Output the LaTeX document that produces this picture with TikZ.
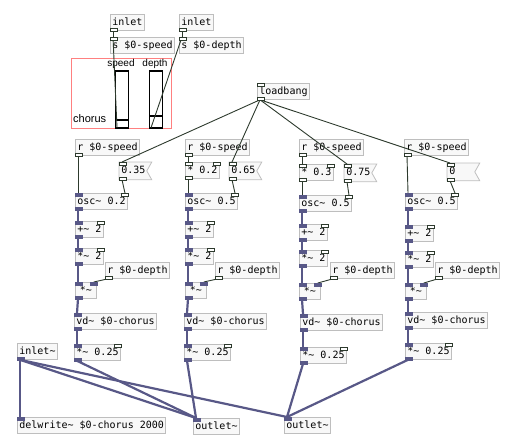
\documentclass[tikz,border=0pt]{standalone}
\usepackage{fontspec}
\setmainfont{Liberation Sans}
\newfontfamily\pdmono{DejaVu Sans Mono}
\usetikzlibrary{backgrounds}
\definecolor{pdbord}{RGB}{190,190,190}
\definecolor{pdfill}{RGB}{248,248,248}
\definecolor{pdctl}{RGB}{45,58,45}
\definecolor{pdsig}{RGB}{88,88,135}
\definecolor{pdred}{RGB}{255,128,128}

\begin{document}
\begin{tikzpicture}[x=1pt,y=-1pt,
 obj/.style={draw=pdbord,fill=pdfill,line width=0.8pt,anchor=north west,font=\pdmono\fontsize{10}{12}\selectfont,inner sep=2pt,minimum height=16pt,text height=7.5pt,text depth=2pt},
 num/.style={obj,draw=none,fill=none,text width=28pt,align=left,minimum height=17pt},
 numshape/.style={draw=pdbord,fill=pdfill,line width=0.8pt},
 lbl/.style={font=\fontsize{10}{12}\selectfont,inner sep=0pt},
 gop/.style={draw=pdred,line width=1pt,anchor=north west,minimum width=100pt,minimum height=70pt,inner sep=0pt},
 slider/.style={draw=black,fill=white,line width=0.8pt,anchor=north west,minimum width=13pt,minimum height=56pt,inner sep=0pt},
 knob/.style={line width=2.6pt,black},
 ctl/.style={draw=pdctl,line width=0.9pt},
 sig/.style={draw=pdsig,line width=2.2pt},
 cport/.style={draw=pdctl,fill=white,line width=0.6pt},
 sport/.style={draw=pdsig,fill=pdsig,line width=0.6pt}]
\useasboundingbox (0,0) rectangle (521,447);

% top: inlets and the GOP area
\node[obj] (in1) at (110,14) {inlet};
\node[obj] (sspd) at (110,37) {s \$0-speed};
\node[obj] (in2) at (179,14) {inlet};
\node[obj] (sdep) at (179,37) {s \$0-depth};
\node[gop] (gop) at (71,58) {};
\node[slider] (spd) at (115,71) {};
\node[slider] (dep) at (149,71) {};
\node[lbl] (lspd) at (121,64) {speed};
\node[lbl] (ldep) at (155,64) {depth};
\node[lbl,anchor=west,font=\fontsize{11}{13}\selectfont] (lcho) at (73,119) {chorus};
\node[obj] (lb) at (257,83) {loadbang};

% column 1
\node[obj] (rs1) at (75,139) {r \$0-speed};
\node[num] (n1) at (119,162) {0.35};
\node[obj] (osc1) at (75,193) {osc\textasciitilde{} 0.2};
\node[obj] (add1) at (75,221) {+\textasciitilde{} 2};
\node[obj] (mul1) at (75,248) {*\textasciitilde{} 2};
\node[obj] (rd1) at (105,262) {r \$0-depth};
\node[obj,minimum width=21pt] (md1) at (75,282) {*\textasciitilde{}};
\node[obj] (vd1) at (74,313) {vd\textasciitilde{} \$0-chorus};
\node[obj] (g1) at (74,344) {*\textasciitilde{} 0.25};

% column 2
\node[obj] (rs2) at (185,139) {r \$0-speed};
\node[obj] (m2) at (185,162) {* 0.2};
\node[num] (n2) at (229,162) {0.65};
\node[obj] (osc2) at (185,193) {osc\textasciitilde{} 0.5};
\node[obj] (add2) at (185,221) {+\textasciitilde{} 2};
\node[obj] (mul2) at (185,248) {*\textasciitilde{} 2};
\node[obj] (rd2) at (215,262) {r \$0-depth};
\node[obj,minimum width=21pt] (md2) at (185,282) {*\textasciitilde{}};
\node[obj] (vd2) at (184,313) {vd\textasciitilde{} \$0-chorus};
\node[obj] (g2) at (184,344) {*\textasciitilde{} 0.25};

% column 3
\node[obj] (rs3) at (299,139) {r \$0-speed};
\node[obj] (m3) at (299,164) {* 0.3};
\node[num] (n3) at (344,164) {0.75};
\node[obj] (osc3) at (299,195) {osc\textasciitilde{} 0.5};
\node[obj] (add3) at (299,224) {+\textasciitilde{} 2};
\node[obj] (mul3) at (299,250) {*\textasciitilde{} 2};
\node[obj] (rd3) at (330,262) {r \$0-depth};
\node[obj,minimum width=21pt] (md3) at (299,283) {*\textasciitilde{}};
\node[obj] (vd3) at (300,314) {vd\textasciitilde{} \$0-chorus};
\node[obj] (g3) at (300,347) {*\textasciitilde{} 0.25};

% column 4
\node[obj] (rs4) at (404,139) {r \$0-speed};
\node[num] (n4) at (447,163) {0};
\node[obj] (osc4) at (405,193) {osc\textasciitilde{} 0.5};
\node[obj] (add4) at (405,225) {+\textasciitilde{} 2};
\node[obj] (mul4) at (405,251) {*\textasciitilde{} 2};
\node[obj] (rd4) at (435,262) {r \$0-depth};
\node[obj,minimum width=21pt] (md4) at (405,283) {*\textasciitilde{}};
\node[obj] (vd4) at (405,312) {vd\textasciitilde{} \$0-chorus};
\node[obj] (g4) at (405,343) {*\textasciitilde{} 0.25};

% bottom
\node[obj] (inl) at (17,343) {inlet\textasciitilde{}};
\node[obj] (dw) at (17,417) {delwrite\textasciitilde{} \$0-chorus 2000};
\node[obj] (out1) at (193,418) {outlet\textasciitilde{}};
\node[obj] (out2) at (284,417) {outlet\textasciitilde{}};

\begin{scope}[on background layer]
\foreach \n in {n1,n2,n3,n4} \draw[numshape] (\n.north west) -- (\n.north east) -- ([xshift=-5pt]\n.east) -- (\n.south east) -- (\n.south west) -- cycle;
\end{scope}

% sliders
\draw[knob] ([yshift=8pt]spd.south west) -- ([yshift=8pt]spd.south east);
\draw[knob] ([yshift=12pt]dep.south west) -- ([yshift=12pt]dep.south east);
\foreach \n in {spd,dep} {\draw[line width=1.6pt] (\n.north west) -- (\n.north east); \draw[line width=1.6pt] (\n.south west) -- (\n.south east);}

% control connections
\draw[ctl] ([xshift=3pt]in1.south west) -- ([xshift=3pt]sspd.north west);
\draw[ctl] ([xshift=3pt]in2.south west) -- ([xshift=3pt]sdep.north west);
\draw[ctl] ([xshift=2pt]spd.south west) -- ([xshift=3pt]sspd.north west);
\draw[ctl] ([xshift=2pt]dep.south west) -- ([xshift=3pt]sdep.north west);
\foreach \n in {n1,n2,n3,n4} \draw[ctl] ([xshift=3pt]lb.south west) -- ([xshift=3pt]\n.north west);
\foreach \a/\b in {rs1/osc1,rs2/m2,m2/osc2,rs3/m3,m3/osc3,rs4/osc4} \draw[ctl] ([xshift=3pt]\a.south west) -- ([xshift=3pt]\b.north west);
\foreach \a/\b in {n1/osc1,n2/osc2,n3/osc3,n4/osc4} \draw[ctl] ([xshift=3pt]\a.south west) -- ([xshift=-3pt]\b.north east);
\foreach \i in {1,2,3,4} \draw[ctl] ([xshift=3pt]rd\i.south west) -- ([xshift=-3pt]md\i.north east);

% signal connections
\foreach \i in {1,2,3,4} {
  \foreach \a/\b in {osc/add,add/mul,mul/md,md/vd,vd/g}
    \draw[sig] ([xshift=3pt]\a\i.south west) -- ([xshift=3pt]\b\i.north west);
}
\foreach \a/\b in {inl/dw,inl/out1,g1/out1,g2/out1,inl/out2,g3/out2,g4/out2} \draw[sig] ([xshift=3pt]\a.south west) -- ([xshift=3pt]\b.north west);

% ports
\foreach \n in {sspd,sdep,lb,n1,n2,n3,n4,m2,m3} \draw[cport] (\n.north west) rectangle ++(7,3);
\foreach \n in {osc1,osc2,osc3,osc4,add1,add2,add3,add4,mul1,mul2,mul3,mul4,g1,g2,g3,g4,m2,m3} \draw[cport] (\n.north east) rectangle ++(-7,3);
\foreach \n in {osc1,osc2,osc3,osc4,add1,add2,add3,add4,mul1,mul2,mul3,mul4,md1,md2,md3,md4,vd1,vd2,vd3,vd4,g1,g2,g3,g4,dw,out1,out2} \draw[sport] (\n.north west) rectangle ++(7,3);
\foreach \n in {md1,md2,md3,md4} \draw[sport] (\n.north east) rectangle ++(-7,3);
\foreach \n in {in1,in2,lb,rs1,rs2,rs3,rs4,rd1,rd2,rd3,rd4,n1,n2,n3,n4,m2,m3} \draw[cport] (\n.south west) rectangle ++(7,-3);
\foreach \n in {osc1,osc2,osc3,osc4,add1,add2,add3,add4,mul1,mul2,mul3,mul4,md1,md2,md3,md4,vd1,vd2,vd3,vd4,g1,g2,g3,g4,inl} \draw[sport] (\n.south west) rectangle ++(7,-3);
\end{tikzpicture}
\end{document}
